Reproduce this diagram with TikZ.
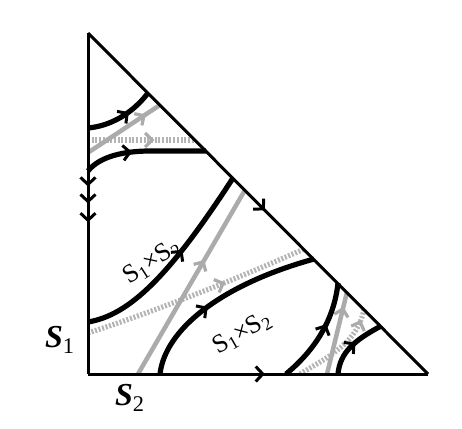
\documentclass[tikz,border=0pt]{standalone}
\usepackage{fontspec}
\setmainfont{Liberation Serif}
\usetikzlibrary{arrows.meta,decorations.markings}
\definecolor{gline}{HTML}{ABABAB}
\definecolor{gdot}{HTML}{B4B4B4}
\tikzset{
  edge/.style={line width=3pt,black},
  traj/.style={line width=5.2pt,black},
  gtraj/.style={line width=4.5pt,color=gline},
  dtraj/.style={line width=5.2pt,color=gdot,dash pattern=on 2pt off 1.7pt},
  barb/.tip={Straight Barb[length=7pt,width=15pt,line width=3pt,color=black]},
  gbarb/.tip={Straight Barb[length=7pt,width=14pt,line width=3.2pt,color=gline]},
  midarrow/.style={postaction={decorate,decoration={markings,
      mark=at position #1 with {\arrow{barb}}}}},
  gmidarrow/.style={postaction={decorate,decoration={markings,
      mark=at position #1 with {\arrow{gbarb}}}}},
  prodlabel/.style={font=\fontsize{26}{26}\selectfont,inner sep=0pt},
  cornerlabel/.style={font=\fontsize{32}{32}\selectfont\bfseries\itshape,inner sep=0pt}
}
\begin{document}
\begin{tikzpicture}[x=1pt,y=-1pt]
\useasboundingbox (0,0) rectangle (462,428);
% vertices
\coordinate (A) at (88,33);
\coordinate (O) at (88,374);
\coordinate (B) at (428,374);
% trajectory end points
\coordinate (c1s) at (88,128);  \coordinate (c1e) at (148,93);
\coordinate (g1s) at (89,152);  \coordinate (g1e) at (160,105);
\coordinate (d1s) at (88,140);  \coordinate (d1e) at (195,140);
\coordinate (c2s) at (88,171);  \coordinate (c2e) at (206,151);
\coordinate (c3s) at (88,322);  \coordinate (c3e) at (233,178);
\coordinate (g2s) at (138,374); \coordinate (g2e) at (245,190);
\coordinate (d2s) at (88,333);  \coordinate (d2e) at (304,249);
\coordinate (c4s) at (160,374); \coordinate (c4e) at (314,259);
\coordinate (c5s) at (286,374); \coordinate (c5e) at (338,283);
\coordinate (g3s) at (327,374); \coordinate (g3e) at (347,292);
\coordinate (d3s) at (300,374); \coordinate (d3e) at (364,309);
\coordinate (c6s) at (338,374); \coordinate (c6e) at (381,326);

% gray dotted trajectories
\draw[dtraj] (d1s) -- (d1e);
\draw[dtraj] (d2s) .. controls (150,313) and (230,282) .. (d2e);
\draw[dtraj] (d3s) .. controls (330,356) and (358,342) .. (d3e);
\path[gmidarrow=0.62] (d1s) -- (d1e);
\path[gmidarrow=0.63] (d2s) .. controls (150,313) and (230,282) .. (d2e);
\path[gmidarrow=0.88] (d3s) .. controls (330,356) and (358,342) .. (d3e);

% gray trajectories
\draw[gtraj,gmidarrow=0.8] (g1s) -- (g1e);
\draw[gtraj,gmidarrow=0.62] (g2s) -- (g2e);
\draw[gtraj,gmidarrow=0.82] (g3s) -- (g3e);

% black trajectories
\draw[traj,midarrow=0.62] (c1s) .. controls (110,126) and (132,114) .. (c1e);
\draw[traj,midarrow=0.4] (c2s) .. controls (100,156) and (125,151) .. (150,151) -- (c2e);
\draw[traj,midarrow=0.58] (c3s) .. controls (130,315) and (170,275) .. (c3e);
\draw[traj,midarrow=0.42] (c4s) .. controls (165,330) and (220,285) .. (c4e);
\draw[traj,midarrow=0.6] (c5s) .. controls (315,350) and (334,320) .. (c5e);
\draw[traj,midarrow=0.55] (c6s) .. controls (340,352) and (355,340) .. (c6e);

% triangle edges
\draw[edge] (O) -- (B);
\draw[edge] (A) -- (B);
\draw[edge] (A) -- (O);
\path[postaction={decorate,decoration={markings,
   mark=at position 0.45 with {\arrow{barb}},
   mark=at position 0.50 with {\arrow{barb}},
   mark=at position 0.555 with {\arrow{barb}}}}] (A) -- (O);
\path[midarrow=0.52] (A) -- (B);
\path[midarrow=0.52] (O) -- (B);

% labels
\node[prodlabel,rotate=33] (l1) at (152,262) {S\textsubscript{1}×S\textsubscript{2}};
\node[prodlabel,rotate=30] (l2) at (242,333) {S\textsubscript{1}×S\textsubscript{2}};
\node[cornerlabel,anchor=base west] (s1) at (45,347) {S\textsubscript{\normalfont 1}};
\node[cornerlabel,anchor=base west] (s2) at (115,405) {S\textsubscript{\normalfont 2}};
\end{tikzpicture}
\end{document}
